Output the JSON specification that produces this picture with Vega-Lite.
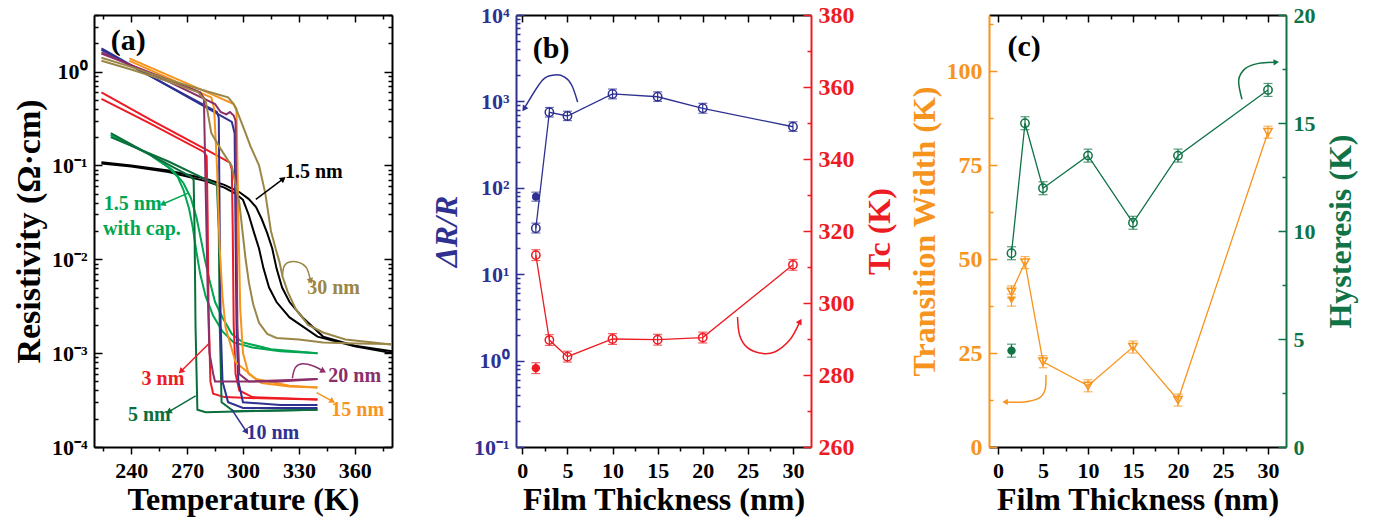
{
"$schema":"https://vega.github.io/schema/vega-lite/v6.json",
"padding":{"left":12,"top":3,"right":5,"bottom":5},
"bounds":"flush",
"spacing":0,
"config":{
 "font":"Liberation Serif",
 "view":{"stroke":null},
 "axis":{"grid":false,"labelFont":"Liberation Serif","labelFontWeight":"bold","labelFontSize":22,"titleFont":"Liberation Serif","titleFontWeight":"bold","titleFontSize":32,"domainWidth":2,"domainColor":"#000","tickColor":"#000","tickWidth":1.5,"labelColor":"#000","titleColor":"#000","labelPadding":6,"titlePadding":3,"labelFlush":false,"labelOverlap":false},
 "text":{"font":"Liberation Serif","fontWeight":"bold","fontSize":20}
},
"datasets":{
 "curves":[
  {"s":"1.5 nm","b":"h","i":0,"T":224,"rho":0.108},{"s":"1.5 nm","b":"h","i":1,"T":240,"rho":0.1},{"s":"1.5 nm","b":"h","i":2,"T":260,"rho":0.088},{"s":"1.5 nm","b":"h","i":3,"T":280,"rho":0.072},{"s":"1.5 nm","b":"h","i":4,"T":290,"rho":0.062},{"s":"1.5 nm","b":"h","i":5,"T":298,"rho":0.052},{"s":"1.5 nm","b":"h","i":6,"T":303,"rho":0.044},{"s":"1.5 nm","b":"h","i":7,"T":307,"rho":0.036},{"s":"1.5 nm","b":"h","i":8,"T":310,"rho":0.027},{"s":"1.5 nm","b":"h","i":9,"T":313,"rho":0.019},{"s":"1.5 nm","b":"h","i":10,"T":315.7,"rho":0.013},{"s":"1.5 nm","b":"h","i":11,"T":318,"rho":0.008},{"s":"1.5 nm","b":"h","i":12,"T":321,"rho":0.005},{"s":"1.5 nm","b":"h","i":13,"T":325,"rho":0.0035},{"s":"1.5 nm","b":"h","i":14,"T":332,"rho":0.0024},{"s":"1.5 nm","b":"h","i":15,"T":343,"rho":0.0015},{"s":"1.5 nm","b":"h","i":16,"T":360,"rho":0.0012},{"s":"1.5 nm","b":"h","i":17,"T":380,"rho":0.00105},
  {"s":"1.5 nm","b":"c","i":0,"T":224,"rho":0.105},{"s":"1.5 nm","b":"c","i":1,"T":240,"rho":0.097},{"s":"1.5 nm","b":"c","i":2,"T":260,"rho":0.085},{"s":"1.5 nm","b":"c","i":3,"T":280,"rho":0.068},{"s":"1.5 nm","b":"c","i":4,"T":290,"rho":0.058},{"s":"1.5 nm","b":"c","i":5,"T":296,"rho":0.05},{"s":"1.5 nm","b":"c","i":6,"T":300,"rho":0.043},{"s":"1.5 nm","b":"c","i":7,"T":303,"rho":0.03},{"s":"1.5 nm","b":"c","i":8,"T":306,"rho":0.019},{"s":"1.5 nm","b":"c","i":9,"T":308.6,"rho":0.013},{"s":"1.5 nm","b":"c","i":10,"T":311,"rho":0.008},{"s":"1.5 nm","b":"c","i":11,"T":314,"rho":0.005},{"s":"1.5 nm","b":"c","i":12,"T":318,"rho":0.0035},{"s":"1.5 nm","b":"c","i":13,"T":325,"rho":0.0024},{"s":"1.5 nm","b":"c","i":14,"T":340,"rho":0.0015},{"s":"1.5 nm","b":"c","i":15,"T":360,"rho":0.00118},{"s":"1.5 nm","b":"c","i":16,"T":380,"rho":0.001},
  {"s":"cap","b":"c","i":0,"T":229,"rho":0.21},{"s":"cap","b":"c","i":1,"T":250,"rho":0.13},{"s":"cap","b":"c","i":2,"T":260,"rho":0.095},{"s":"cap","b":"c","i":3,"T":265,"rho":0.075},{"s":"cap","b":"c","i":4,"T":268,"rho":0.055},{"s":"cap","b":"c","i":5,"T":271,"rho":0.035},{"s":"cap","b":"c","i":6,"T":273,"rho":0.022},{"s":"cap","b":"c","i":7,"T":275,"rho":0.012},{"s":"cap","b":"c","i":8,"T":277,"rho":0.007},{"s":"cap","b":"c","i":9,"T":280,"rho":0.004},{"s":"cap","b":"c","i":10,"T":284,"rho":0.0025},{"s":"cap","b":"c","i":11,"T":289,"rho":0.0017},{"s":"cap","b":"c","i":12,"T":295,"rho":0.0013},{"s":"cap","b":"c","i":13,"T":305,"rho":0.00115},{"s":"cap","b":"c","i":14,"T":320,"rho":0.00105},{"s":"cap","b":"c","i":15,"T":340,"rho":0.001},
  {"s":"cap","b":"h","i":0,"T":229,"rho":0.21},{"s":"cap","b":"h","i":1,"T":250,"rho":0.13},{"s":"cap","b":"h","i":2,"T":262,"rho":0.09},{"s":"cap","b":"h","i":3,"T":268,"rho":0.065},{"s":"cap","b":"h","i":4,"T":272,"rho":0.045},{"s":"cap","b":"h","i":5,"T":275,"rho":0.028},{"s":"cap","b":"h","i":6,"T":277.5,"rho":0.016},{"s":"cap","b":"h","i":7,"T":279.5,"rho":0.01},{"s":"cap","b":"h","i":8,"T":282,"rho":0.006},{"s":"cap","b":"h","i":9,"T":285,"rho":0.0035},{"s":"cap","b":"h","i":10,"T":289,"rho":0.0024},{"s":"cap","b":"h","i":11,"T":294,"rho":0.0016},{"s":"cap","b":"h","i":12,"T":300,"rho":0.0013},{"s":"cap","b":"h","i":13,"T":315,"rho":0.0011},{"s":"cap","b":"h","i":14,"T":340,"rho":0.001},
  {"s":"3 nm","b":"h","i":0,"T":224,"rho":0.6},{"s":"3 nm","b":"h","i":1,"T":250,"rho":0.31},{"s":"3 nm","b":"h","i":2,"T":280,"rho":0.148},{"s":"3 nm","b":"h","i":3,"T":293,"rho":0.107},{"s":"3 nm","b":"h","i":4,"T":294,"rho":0.09},{"s":"3 nm","b":"h","i":5,"T":294.5,"rho":0.02},{"s":"3 nm","b":"h","i":6,"T":295,"rho":0.002},{"s":"3 nm","b":"h","i":7,"T":296,"rho":0.0006},{"s":"3 nm","b":"h","i":8,"T":298,"rho":0.0004},{"s":"3 nm","b":"h","i":9,"T":305,"rho":0.00034},{"s":"3 nm","b":"h","i":10,"T":340,"rho":0.00032},
  {"s":"3 nm","b":"c","i":0,"T":224,"rho":0.51},{"s":"3 nm","b":"c","i":1,"T":250,"rho":0.28},{"s":"3 nm","b":"c","i":2,"T":279,"rho":0.139},{"s":"3 nm","b":"c","i":3,"T":280.5,"rho":0.125},{"s":"3 nm","b":"c","i":4,"T":281,"rho":0.03},{"s":"3 nm","b":"c","i":5,"T":281.5,"rho":0.003},{"s":"3 nm","b":"c","i":6,"T":282.5,"rho":0.0005},{"s":"3 nm","b":"c","i":7,"T":284,"rho":0.00037},{"s":"3 nm","b":"c","i":8,"T":290,"rho":0.00034},{"s":"3 nm","b":"c","i":9,"T":310,"rho":0.00033},{"s":"3 nm","b":"c","i":10,"T":340,"rho":0.00032},
  {"s":"5 nm","b":"h","i":0,"T":229,"rho":0.2},{"s":"5 nm","b":"h","i":1,"T":260,"rho":0.11},{"s":"5 nm","b":"h","i":2,"T":282,"rho":0.068},{"s":"5 nm","b":"h","i":3,"T":286,"rho":0.062},{"s":"5 nm","b":"h","i":4,"T":287,"rho":0.02},{"s":"5 nm","b":"h","i":5,"T":287.5,"rho":0.002},{"s":"5 nm","b":"h","i":6,"T":288.5,"rho":0.0003},{"s":"5 nm","b":"h","i":7,"T":295,"rho":0.00024},{"s":"5 nm","b":"h","i":8,"T":340,"rho":0.00025},
  {"s":"5 nm","b":"c","i":0,"T":229,"rho":0.22},{"s":"5 nm","b":"c","i":1,"T":250,"rho":0.13},{"s":"5 nm","b":"c","i":2,"T":265,"rho":0.09},{"s":"5 nm","b":"c","i":3,"T":272,"rho":0.076},{"s":"5 nm","b":"c","i":4,"T":273.5,"rho":0.07},{"s":"5 nm","b":"c","i":5,"T":274,"rho":0.02},{"s":"5 nm","b":"c","i":6,"T":274.5,"rho":0.002},{"s":"5 nm","b":"c","i":7,"T":275.5,"rho":0.00025},{"s":"5 nm","b":"c","i":8,"T":280,"rho":0.000235},{"s":"5 nm","b":"c","i":9,"T":340,"rho":0.00025},
  {"s":"10 nm","b":"h","i":0,"T":224,"rho":1.76},{"s":"10 nm","b":"h","i":1,"T":294,"rho":0.29},{"s":"10 nm","b":"h","i":2,"T":295.5,"rho":0.22},{"s":"10 nm","b":"h","i":3,"T":296,"rho":0.02},{"s":"10 nm","b":"h","i":4,"T":296.5,"rho":0.002},{"s":"10 nm","b":"h","i":5,"T":297.5,"rho":0.0005},{"s":"10 nm","b":"h","i":6,"T":300,"rho":0.0003},{"s":"10 nm","b":"h","i":7,"T":320,"rho":0.00028},{"s":"10 nm","b":"h","i":8,"T":340,"rho":0.00028},
  {"s":"10 nm","b":"c","i":0,"T":224,"rho":1.7},{"s":"10 nm","b":"c","i":1,"T":286,"rho":0.37},{"s":"10 nm","b":"c","i":2,"T":287,"rho":0.32},{"s":"10 nm","b":"c","i":3,"T":287.5,"rho":0.02},{"s":"10 nm","b":"c","i":4,"T":288,"rho":0.002},{"s":"10 nm","b":"c","i":5,"T":289,"rho":0.0005},{"s":"10 nm","b":"c","i":6,"T":292,"rho":0.0003},{"s":"10 nm","b":"c","i":7,"T":300,"rho":0.00026},{"s":"10 nm","b":"c","i":8,"T":340,"rho":0.00026},
  {"s":"15 nm","b":"h","i":0,"T":239,"rho":1.38},{"s":"15 nm","b":"h","i":1,"T":260,"rho":0.91},{"s":"15 nm","b":"h","i":2,"T":280,"rho":0.61},{"s":"15 nm","b":"h","i":3,"T":295,"rho":0.45},{"s":"15 nm","b":"h","i":4,"T":296.5,"rho":0.4},{"s":"15 nm","b":"h","i":5,"T":297.5,"rho":0.03},{"s":"15 nm","b":"h","i":6,"T":298.5,"rho":0.003},{"s":"15 nm","b":"h","i":7,"T":300,"rho":0.001},{"s":"15 nm","b":"h","i":8,"T":303,"rho":0.0006},{"s":"15 nm","b":"h","i":9,"T":310,"rho":0.00048},{"s":"15 nm","b":"h","i":10,"T":325,"rho":0.00044},{"s":"15 nm","b":"h","i":11,"T":340,"rho":0.00043},
  {"s":"15 nm","b":"c","i":0,"T":239,"rho":1.3},{"s":"15 nm","b":"c","i":1,"T":260,"rho":0.85},{"s":"15 nm","b":"c","i":2,"T":280,"rho":0.56},{"s":"15 nm","b":"c","i":3,"T":283,"rho":0.53},{"s":"15 nm","b":"c","i":4,"T":284.5,"rho":0.4},{"s":"15 nm","b":"c","i":5,"T":286,"rho":0.1},{"s":"15 nm","b":"c","i":6,"T":287.5,"rho":0.013},{"s":"15 nm","b":"c","i":7,"T":289,"rho":0.004},{"s":"15 nm","b":"c","i":8,"T":290.6,"rho":0.0019},{"s":"15 nm","b":"c","i":9,"T":296,"rho":0.0008},{"s":"15 nm","b":"c","i":10,"T":307,"rho":0.00053},{"s":"15 nm","b":"c","i":11,"T":325,"rho":0.00045},{"s":"15 nm","b":"c","i":12,"T":340,"rho":0.00043},
  {"s":"20 nm","b":"h","i":0,"T":224,"rho":1.6},{"s":"20 nm","b":"h","i":1,"T":260,"rho":0.78},{"s":"20 nm","b":"h","i":2,"T":285,"rho":0.45},{"s":"20 nm","b":"h","i":3,"T":288,"rho":0.37},{"s":"20 nm","b":"h","i":4,"T":291,"rho":0.35},{"s":"20 nm","b":"h","i":5,"T":293,"rho":0.37},{"s":"20 nm","b":"h","i":6,"T":295,"rho":0.34},{"s":"20 nm","b":"h","i":7,"T":296,"rho":0.3},{"s":"20 nm","b":"h","i":8,"T":296.5,"rho":0.02},{"s":"20 nm","b":"h","i":9,"T":297,"rho":0.002},{"s":"20 nm","b":"h","i":10,"T":298,"rho":0.0006},{"s":"20 nm","b":"h","i":11,"T":303,"rho":0.0005},{"s":"20 nm","b":"h","i":12,"T":340,"rho":0.00053},
  {"s":"20 nm","b":"c","i":0,"T":224,"rho":1.55},{"s":"20 nm","b":"c","i":1,"T":260,"rho":0.82},{"s":"20 nm","b":"c","i":2,"T":277,"rho":0.6},{"s":"20 nm","b":"c","i":3,"T":279,"rho":0.52},{"s":"20 nm","b":"c","i":4,"T":280,"rho":0.05},{"s":"20 nm","b":"c","i":5,"T":281,"rho":0.005},{"s":"20 nm","b":"c","i":6,"T":282,"rho":0.001},{"s":"20 nm","b":"c","i":7,"T":284,"rho":0.0006},{"s":"20 nm","b":"c","i":8,"T":285,"rho":0.0005},{"s":"20 nm","b":"c","i":9,"T":320,"rho":0.0005},{"s":"20 nm","b":"c","i":10,"T":340,"rho":0.00053},
  {"s":"30 nm","b":"h","i":0,"T":224,"rho":1.4},{"s":"30 nm","b":"h","i":1,"T":240,"rho":1.12},{"s":"30 nm","b":"h","i":2,"T":260,"rho":0.82},{"s":"30 nm","b":"h","i":3,"T":280,"rho":0.62},{"s":"30 nm","b":"h","i":4,"T":292,"rho":0.53},{"s":"30 nm","b":"h","i":5,"T":295,"rho":0.45},{"s":"30 nm","b":"h","i":6,"T":297,"rho":0.37},{"s":"30 nm","b":"h","i":7,"T":300,"rho":0.26},{"s":"30 nm","b":"h","i":8,"T":304,"rho":0.16},{"s":"30 nm","b":"h","i":9,"T":308.6,"rho":0.1},{"s":"30 nm","b":"h","i":10,"T":312,"rho":0.05},{"s":"30 nm","b":"h","i":11,"T":315,"rho":0.02},{"s":"30 nm","b":"h","i":12,"T":317.5,"rho":0.013},{"s":"30 nm","b":"h","i":13,"T":319.5,"rho":0.0095},{"s":"30 nm","b":"h","i":14,"T":321.2,"rho":0.0066},{"s":"30 nm","b":"h","i":15,"T":324,"rho":0.0045},{"s":"30 nm","b":"h","i":16,"T":328.5,"rho":0.0029},{"s":"30 nm","b":"h","i":17,"T":335,"rho":0.002},{"s":"30 nm","b":"h","i":18,"T":343,"rho":0.00166},{"s":"30 nm","b":"h","i":19,"T":355,"rho":0.0014},{"s":"30 nm","b":"h","i":20,"T":370,"rho":0.0013},{"s":"30 nm","b":"h","i":21,"T":380,"rho":0.00123},
  {"s":"30 nm","b":"c","i":0,"T":224,"rho":1.3},{"s":"30 nm","b":"c","i":1,"T":240,"rho":1.05},{"s":"30 nm","b":"c","i":2,"T":260,"rho":0.78},{"s":"30 nm","b":"c","i":3,"T":276,"rho":0.6},{"s":"30 nm","b":"c","i":4,"T":280,"rho":0.48},{"s":"30 nm","b":"c","i":5,"T":283,"rho":0.22},{"s":"30 nm","b":"c","i":6,"T":288,"rho":0.15},{"s":"30 nm","b":"c","i":7,"T":294,"rho":0.098},{"s":"30 nm","b":"c","i":8,"T":298,"rho":0.04},{"s":"30 nm","b":"c","i":9,"T":301.4,"rho":0.01},{"s":"30 nm","b":"c","i":10,"T":303.2,"rho":0.0056},{"s":"30 nm","b":"c","i":11,"T":305.5,"rho":0.0033},{"s":"30 nm","b":"c","i":12,"T":308.6,"rho":0.0021},{"s":"30 nm","b":"c","i":13,"T":313,"rho":0.0016},{"s":"30 nm","b":"c","i":14,"T":318,"rho":0.00145},{"s":"30 nm","b":"c","i":15,"T":330,"rho":0.0014},{"s":"30 nm","b":"c","i":16,"T":343,"rho":0.0013},{"s":"30 nm","b":"c","i":17,"T":360,"rho":0.00127},{"s":"30 nm","b":"c","i":18,"T":380,"rho":0.00125}
 ],
 "labA":[
  {"txt":"1.5 nm","s":"1.5 nm","T":338,"rho":0.084},
  {"txt":"1.5 nm","s":"cap","T":240.8,"rho":0.039},
  {"txt":"with cap.","s":"cap","T":245.7,"rho":0.021},
  {"txt":"3 nm","s":"3 nm","T":257,"rho":0.00053},
  {"txt":"5 nm","s":"5 nm","T":249.7,"rho":0.00022},
  {"txt":"10 nm","s":"10 nm","T":316,"rho":0.00014},
  {"txt":"15 nm","s":"15 nm","T":361.6,"rho":0.00025},
  {"txt":"20 nm","s":"20 nm","T":360,"rho":0.00057},
  {"txt":"30 nm","s":"30 nm","T":348.6,"rho":0.0049}
 ],
 "arrA":[
  {"id":"a3","s":"3 nm","i":0,"T":281.6,"rho":0.00126},{"id":"a3","s":"3 nm","i":1,"T":267,"rho":0.00065},
  {"id":"a5","s":"5 nm","i":0,"T":274.6,"rho":0.00035},{"id":"a5","s":"5 nm","i":1,"T":260.5,"rho":0.00024},
  {"id":"a10","s":"10 nm","i":0,"T":294,"rho":0.00025},{"id":"a10","s":"10 nm","i":1,"T":301.6,"rho":0.000148},
  {"id":"a15","s":"15 nm","i":0,"T":339.5,"rho":0.00038},{"id":"a15","s":"15 nm","i":1,"T":347.6,"rho":0.00031},
  {"id":"a20","s":"20 nm","i":0,"T":326.5,"rho":0.00054},{"id":"a20","s":"20 nm","i":1,"T":328.1,"rho":0.0007},{"id":"a20","s":"20 nm","i":2,"T":331.9,"rho":0.00077},{"id":"a20","s":"20 nm","i":3,"T":337.8,"rho":0.00073},{"id":"a20","s":"20 nm","i":4,"T":342.7,"rho":0.00065},
  {"id":"a30","s":"30 nm","i":0,"T":321.1,"rho":0.0065},{"id":"a30","s":"30 nm","i":1,"T":322.2,"rho":0.0085},{"id":"a30","s":"30 nm","i":2,"T":325.4,"rho":0.0094},{"id":"a30","s":"30 nm","i":3,"T":330.3,"rho":0.0092},{"id":"a30","s":"30 nm","i":4,"T":334.1,"rho":0.0081},{"id":"a30","s":"30 nm","i":5,"T":336.2,"rho":0.006},
  {"id":"a1","s":"1.5 nm","i":0,"T":306.9,"rho":0.0435},{"id":"a1","s":"1.5 nm","i":1,"T":321.2,"rho":0.071},
  {"id":"ac","s":"cap","i":0,"T":270.8,"rho":0.051},{"id":"ac","s":"cap","i":1,"T":257.3,"rho":0.039}
 ],
 "headA":[
  {"s":"3 nm","T":267,"rho":0.00065,"a":225},
  {"s":"5 nm","T":260.5,"rho":0.00024,"a":240},
  {"s":"10 nm","T":301.6,"rho":0.000148,"a":147},
  {"s":"15 nm","T":347.6,"rho":0.00031,"a":121},
  {"s":"20 nm","T":342.7,"rho":0.00065,"a":119},
  {"s":"30 nm","T":336.2,"rho":0.006,"a":162},
  {"s":"1.5 nm","T":321.2,"rho":0.071,"a":52},
  {"s":"cap","T":257.3,"rho":0.039,"a":246}
 ],
 "dr":[
  {"t":1.5,"v":34,"lo":30,"hi":39,"k":"o"},{"t":1.5,"v":79,"lo":70,"hi":89,"k":"f"},{"t":3,"v":748,"lo":660,"hi":850,"k":"o"},{"t":5,"v":678,"lo":600,"hi":770,"k":"o"},{"t":10,"v":1219,"lo":1070,"hi":1390,"k":"o"},{"t":15,"v":1132,"lo":1000,"hi":1290,"k":"o"},{"t":20,"v":832,"lo":730,"hi":950,"k":"o"},{"t":30,"v":509,"lo":450,"hi":580,"k":"o"}
 ],
 "arB":[{"i":0,"t":6.13,"v":984},{"i":1,"t":5.47,"v":1549},{"i":2,"t":4.69,"v":1914},{"i":3,"t":3.58,"v":2023},{"i":4,"t":2.25,"v":1770},{"i":5,"t":0.25,"v":840}],
 "arBh":[{"t":0.25,"v":840,"a":213}],
 "tc":[
  {"t":1.5,"v":313.3,"lo":311.8,"hi":314.8,"k":"o"},{"t":1.5,"v":281.9,"lo":280.4,"hi":283.4,"k":"f"},{"t":3,"v":289.7,"lo":288.2,"hi":291.2,"k":"o"},{"t":5,"v":285.1,"lo":283.6,"hi":286.6,"k":"o"},{"t":10,"v":290,"lo":288.5,"hi":291.5,"k":"o"},{"t":15,"v":289.8,"lo":288.3,"hi":291.3,"k":"o"},{"t":20,"v":290.4,"lo":288.9,"hi":291.9,"k":"o"},{"t":30,"v":310.6,"lo":309.1,"hi":312.1,"k":"o"}
 ],
 "arR":[{"i":0,"t":23.86,"v":296.1},{"i":1,"t":24.08,"v":291.1},{"i":2,"t":24.86,"v":287.8},{"i":3,"t":26.3,"v":286.1},{"i":4,"t":27.97,"v":286.4},{"i":5,"t":29.63,"v":289.7},{"i":6,"t":30.74,"v":294.7}],
 "arRh":[{"t":30.74,"v":294.7,"a":29}],
 "tw":[
  {"t":1.5,"v":41.3,"lo":39.7,"hi":42.9,"k":"o"},{"t":1.5,"v":39.1,"lo":37.5,"hi":40.7,"k":"f"},{"t":3,"v":49.1,"lo":47.5,"hi":50.7,"k":"o"},{"t":5,"v":22.7,"lo":21.1,"hi":24.3,"k":"o"},{"t":10,"v":16.3,"lo":14.7,"hi":17.9,"k":"o"},{"t":15,"v":26.6,"lo":25,"hi":28.2,"k":"o"},{"t":20,"v":12.5,"lo":10.9,"hi":14.1,"k":"o"},{"t":30,"v":83.8,"lo":82.2,"hi":85.4,"k":"o"}
 ],
 "arO":[{"i":0,"t":5.33,"v":19.2},{"i":1,"t":5.22,"v":15.2},{"i":2,"t":4.55,"v":13},{"i":3,"t":2.89,"v":12},{"i":4,"t":0.89,"v":12}],
 "arOh":[{"t":0.89,"v":12,"a":270}],
 "hy":[
  {"t":1.5,"v":8.97,"lo":8.67,"hi":9.27,"k":"o"},{"t":1.5,"v":4.46,"lo":4.16,"hi":4.76,"k":"f"},{"t":3,"v":14.99,"lo":14.69,"hi":15.29,"k":"o"},{"t":5,"v":11.98,"lo":11.68,"hi":12.28,"k":"o"},{"t":10,"v":13.49,"lo":13.19,"hi":13.79,"k":"o"},{"t":15,"v":10.38,"lo":10.08,"hi":10.68,"k":"o"},{"t":20,"v":13.49,"lo":13.19,"hi":13.79,"k":"o"},{"t":30,"v":16.53,"lo":16.23,"hi":16.83,"k":"o"}
 ],
 "arG":[{"i":0,"t":27.11,"v":16.1},{"i":1,"t":26.75,"v":16.99},{"i":2,"t":27.49,"v":17.53},{"i":3,"t":28.97,"v":17.76},{"i":4,"t":30.82,"v":17.81}],
 "arGh":[{"t":30.82,"v":17.81,"a":87}]
},
"hconcat":[
 {
  "width":298,"height":432,
  "layer":[
   {
    "encoding":{
     "x":{"field":"T","type":"quantitative","scale":{"domain":[220,380],"nice":false,"zero":false},
      "axis":{"title":"Temperature (K)","values":[225,240,255,270,285,300,315,330,345,360,375],"labelExpr":"datum.value % 30 == 0 ? datum.label : ''","tickSize":{"condition":{"test":"datum.value % 30 == 0","value":7},"value":4}}},
     "y":{"field":"rho","type":"quantitative","scale":{"type":"log","domain":[0.0001,4],"nice":false},
      "axis":{"title":"Resistivity (Ω·cm)","titleFontSize":34,"titlePadding":5,"values":[0.0001,0.0002,0.0003,0.0004,0.0005,0.0006,0.0007,0.0008,0.0009,0.001,0.002,0.003,0.004,0.005,0.006,0.007,0.008,0.009,0.01,0.02,0.03,0.04,0.05,0.06,0.07,0.08,0.09,0.1,0.2,0.3,0.4,0.5,0.6,0.7,0.8,0.9,1,2,3,4],
       "labelExpr":"abs(log(datum.value)/LN10 - round(log(datum.value)/LN10)) < 0.001 ? '10' + ['⁻⁴','⁻³','⁻²','⁻¹','⁰'][round(log(datum.value)/LN10) + 4] : ''",
       "tickSize":{"condition":{"test":"abs(log(datum.value)/LN10 - round(log(datum.value)/LN10)) < 0.001","value":-8},"value":-4},"labelPadding":15}},
     "color":{"field":"s","type":"nominal","scale":{"domain":["1.5 nm","cap","3 nm","5 nm","10 nm","15 nm","20 nm","30 nm"],"range":["#000000","#00A651","#ED1C24","#0B6E3C","#2E3192","#F7941D","#8B2F6B","#9A8747"]},"legend":null}
    },
    "layer":[
     {"data":{"name":"curves"},"mark":{"type":"line","strokeWidth":2},"encoding":{"detail":{"field":"b","type":"nominal"},"order":{"field":"i","type":"quantitative"}}},
     {"data":{"name":"arrA"},"mark":{"type":"line","strokeWidth":1.5,"interpolate":"cardinal"},"encoding":{"detail":{"field":"id","type":"nominal"},"order":{"field":"i","type":"quantitative"}}},
     {"data":{"name":"headA"},"mark":{"type":"point","shape":"triangle","filled":true,"size":45,"opacity":1},"encoding":{"angle":{"field":"a","type":"quantitative","scale":null}}},
     {"data":{"name":"labA"},"mark":{"type":"text","fontSize":20},"encoding":{"text":{"field":"txt"}}},
     {"data":{"values":[{"T":238.4,"rho":2.09,"lab":"(a)"}]},"mark":{"type":"text","fontSize":30},"encoding":{"text":{"field":"lab"},"color":{"value":"#000"}}}
    ]
   },
   {
    "data":{"values":[{"T":300,"rho":0.01}]},
    "mark":{"type":"point","opacity":0},
    "encoding":{
     "x":{"field":"T","type":"quantitative","scale":{"domain":[220,380],"nice":false,"zero":false},
      "axis":{"orient":"top","title":null,"labels":false,"values":[225,240,255,270,285,300,315,330,345,360,375],"tickSize":{"condition":{"test":"datum.value % 30 == 0","value":-7},"value":-4}}},
     "y":{"field":"rho","type":"quantitative","scale":{"type":"log","domain":[0.0001,4],"nice":false},
      "axis":{"orient":"right","title":null,"labels":false,"values":[0.0001,0.0002,0.0003,0.0004,0.0005,0.0006,0.0007,0.0008,0.0009,0.001,0.002,0.003,0.004,0.005,0.006,0.007,0.008,0.009,0.01,0.02,0.03,0.04,0.05,0.06,0.07,0.08,0.09,0.1,0.2,0.3,0.4,0.5,0.6,0.7,0.8,0.9,1,2,3,4],
       "tickSize":{"condition":{"test":"abs(log(datum.value)/LN10 - round(log(datum.value)/LN10)) < 0.001","value":-8},"value":-4}}}
    }
   }
  ],
  "resolve":{"scale":{"x":"independent","y":"independent"}}
 },
 {"width":124,"height":432,"data":{"values":[{"z":0}]},"mark":{"type":"point","opacity":0},"encoding":{}},
 {
  "width":295,"height":432,
  "layer":[
   {
    "encoding":{
     "x":{"field":"t","type":"quantitative","scale":{"domain":[-0.7,32],"nice":false,"zero":false},
      "axis":{"title":"Film Thickness (nm)","values":[0,2.5,5,7.5,10,12.5,15,17.5,20,22.5,25,27.5,30],"labelExpr":"datum.value % 5 == 0 ? datum.label : ''","tickSize":{"condition":{"test":"datum.value % 5 == 0","value":7},"value":4}}},
     "y":{"field":"v","type":"quantitative","scale":{"type":"log","domain":[0.1,10000],"nice":false},
      "axis":{"orient":"left","title":"ΔR/R","titleFontStyle":"italic","titleColor":"#2E3192","labelColor":"#2E3192","domainColor":"#2E3192","tickColor":"#2E3192",
       "values":[0.1,0.2,0.3,0.4,0.5,0.6,0.7,0.8,0.9,1,2,3,4,5,6,7,8,9,10,20,30,40,50,60,70,80,90,100,200,300,400,500,600,700,800,900,1000,2000,3000,4000,5000,6000,7000,8000,9000,10000],
       "labelExpr":"abs(log(datum.value)/LN10 - round(log(datum.value)/LN10)) < 0.001 ? '10' + ['⁻¹','⁰','¹','²','³','⁴'][round(log(datum.value)/LN10) + 1] : ''",
       "tickSize":{"condition":{"test":"abs(log(datum.value)/LN10 - round(log(datum.value)/LN10)) < 0.001","value":-8},"value":-4},"labelPadding":15,"titlePadding":10}}
    },
    "layer":[
     {"data":{"name":"dr"},"transform":[{"filter":"datum.k == 'o'"}],"mark":{"type":"line","color":"#2E3192","strokeWidth":1.3}},
     {"data":{"name":"dr"},"mark":{"type":"rule","color":"#2E3192","strokeWidth":1.2},"encoding":{"y":{"field":"lo","type":"quantitative"},"y2":{"field":"hi"}}},
     {"data":{"name":"dr"},"mark":{"type":"tick","orient":"horizontal","size":9,"thickness":1.2,"color":"#2E3192"},"encoding":{"y":{"field":"lo","type":"quantitative"}}},
     {"data":{"name":"dr"},"mark":{"type":"tick","orient":"horizontal","size":9,"thickness":1.2,"color":"#2E3192"},"encoding":{"y":{"field":"hi","type":"quantitative"}}},
     {"data":{"name":"dr"},"transform":[{"filter":"datum.k == 'o'"}],"mark":{"type":"point","shape":"circle","size":70,"filled":false,"strokeWidth":1.5,"color":"#2E3192","opacity":1}},
     {"data":{"name":"dr"},"transform":[{"filter":"datum.k == 'f'"}],"mark":{"type":"point","shape":"circle","size":60,"filled":true,"color":"#2E3192","opacity":1}},
     {"data":{"name":"arB"},"mark":{"type":"line","color":"#2E3192","strokeWidth":1.5,"interpolate":"cardinal"},"encoding":{"order":{"field":"i","type":"quantitative"}}},
     {"data":{"name":"arBh"},"mark":{"type":"point","shape":"triangle","filled":true,"size":45,"color":"#2E3192","opacity":1},"encoding":{"angle":{"field":"a","type":"quantitative","scale":null}}},
     {"data":{"values":[{"t":3.2,"v":4000,"lab":"(b)"}]},"mark":{"type":"text","fontSize":30,"color":"#000"},"encoding":{"text":{"field":"lab"}}}
    ]
   },
   {
    "encoding":{
     "x":{"field":"t","type":"quantitative","scale":{"domain":[-0.7,32],"nice":false,"zero":false},"axis":null},
     "y":{"field":"v","type":"quantitative","scale":{"domain":[260,380],"nice":false,"zero":false},
      "axis":{"orient":"right","title":"Tc (K)","titleAngle":270,"titleBaseline":"top","titleColor":"#ED1C24","labelColor":"#ED1C24","domainColor":"#ED1C24","tickColor":"#ED1C24","labelFontSize":24,
       "values":[260,270,280,290,300,310,320,330,340,350,360,370,380],"labelExpr":"datum.value % 20 == 0 ? datum.label : ''",
       "tickSize":{"condition":{"test":"datum.value % 20 == 0","value":-8},"value":-4},"labelPadding":15,"titlePadding":10}}
    },
    "layer":[
     {"data":{"name":"tc"},"transform":[{"filter":"datum.k == 'o'"}],"mark":{"type":"line","color":"#ED1C24","strokeWidth":1.3}},
     {"data":{"name":"tc"},"mark":{"type":"rule","color":"#ED1C24","strokeWidth":1.2},"encoding":{"y":{"field":"lo","type":"quantitative"},"y2":{"field":"hi"}}},
     {"data":{"name":"tc"},"mark":{"type":"tick","orient":"horizontal","size":9,"thickness":1.2,"color":"#ED1C24"},"encoding":{"y":{"field":"lo","type":"quantitative"}}},
     {"data":{"name":"tc"},"mark":{"type":"tick","orient":"horizontal","size":9,"thickness":1.2,"color":"#ED1C24"},"encoding":{"y":{"field":"hi","type":"quantitative"}}},
     {"data":{"name":"tc"},"transform":[{"filter":"datum.k == 'o'"}],"mark":{"type":"point","shape":"circle","size":70,"filled":false,"strokeWidth":1.5,"color":"#ED1C24","opacity":1}},
     {"data":{"name":"tc"},"transform":[{"filter":"datum.k == 'f'"}],"mark":{"type":"point","shape":"circle","size":70,"filled":true,"color":"#ED1C24","opacity":1}},
     {"data":{"name":"arR"},"mark":{"type":"line","color":"#ED1C24","strokeWidth":1.5,"interpolate":"cardinal"},"encoding":{"order":{"field":"i","type":"quantitative"}}},
     {"data":{"name":"arRh"},"mark":{"type":"point","shape":"triangle","filled":true,"size":45,"color":"#ED1C24","opacity":1},"encoding":{"angle":{"field":"a","type":"quantitative","scale":null}}}
    ]
   },
   {
    "data":{"values":[{"t":10}]},
    "mark":{"type":"point","opacity":0},
    "encoding":{
     "x":{"field":"t","type":"quantitative","scale":{"domain":[-0.7,32],"nice":false,"zero":false},
      "axis":{"orient":"top","title":null,"labels":false,"values":[0,2.5,5,7.5,10,12.5,15,17.5,20,22.5,25,27.5,30],"tickSize":{"condition":{"test":"datum.value % 5 == 0","value":-7},"value":-4}}}
    }
   }
  ],
  "resolve":{"scale":{"x":"independent","y":"independent"}}
 },
 {"width":178,"height":432,"data":{"values":[{"z":0}]},"mark":{"type":"point","opacity":0},"encoding":{}},
 {
  "width":297,"height":432,
  "layer":[
   {
    "encoding":{
     "x":{"field":"t","type":"quantitative","scale":{"domain":[-1,32],"nice":false,"zero":false},
      "axis":{"title":"Film Thickness (nm)","values":[0,2.5,5,7.5,10,12.5,15,17.5,20,22.5,25,27.5,30],"labelExpr":"datum.value % 5 == 0 ? datum.label : ''","tickSize":{"condition":{"test":"datum.value % 5 == 0","value":7},"value":4}}},
     "y":{"field":"v","type":"quantitative","scale":{"domain":[0,115],"nice":false,"zero":false},
      "axis":{"orient":"left","title":"Transition Width (K)","titleColor":"#F7941D","labelColor":"#F7941D","domainColor":"#F7941D","tickColor":"#F7941D","labelFontSize":24,
       "values":[0,12.5,25,37.5,50,62.5,75,87.5,100,112.5],"labelExpr":"datum.value % 25 == 0 ? datum.label : ''",
       "tickSize":{"condition":{"test":"datum.value % 25 == 0","value":-8},"value":-4},"labelPadding":15,"titlePadding":5}}
    },
    "layer":[
     {"data":{"name":"tw"},"transform":[{"filter":"datum.k == 'o'"}],"mark":{"type":"line","color":"#F7941D","strokeWidth":1.3}},
     {"data":{"name":"tw"},"mark":{"type":"rule","color":"#F7941D","strokeWidth":1.2},"encoding":{"y":{"field":"lo","type":"quantitative"},"y2":{"field":"hi"}}},
     {"data":{"name":"tw"},"mark":{"type":"tick","orient":"horizontal","size":9,"thickness":1.2,"color":"#F7941D"},"encoding":{"y":{"field":"lo","type":"quantitative"}}},
     {"data":{"name":"tw"},"mark":{"type":"tick","orient":"horizontal","size":9,"thickness":1.2,"color":"#F7941D"},"encoding":{"y":{"field":"hi","type":"quantitative"}}},
     {"data":{"name":"tw"},"transform":[{"filter":"datum.k == 'o'"}],"mark":{"type":"point","shape":"triangle-down","size":70,"filled":false,"strokeWidth":1.5,"color":"#F7941D","opacity":1}},
     {"data":{"name":"tw"},"transform":[{"filter":"datum.k == 'f'"}],"mark":{"type":"point","shape":"triangle-down","size":70,"filled":true,"color":"#F7941D","opacity":1}},
     {"data":{"name":"arO"},"mark":{"type":"line","color":"#F7941D","strokeWidth":1.5,"interpolate":"cardinal"},"encoding":{"order":{"field":"i","type":"quantitative"}}},
     {"data":{"name":"arOh"},"mark":{"type":"point","shape":"triangle","filled":true,"size":40,"color":"#F7941D","opacity":1},"encoding":{"angle":{"field":"a","type":"quantitative","scale":null}}},
     {"data":{"values":[{"t":2.9,"v":106.5,"lab":"(c)"}]},"mark":{"type":"text","fontSize":30,"color":"#000"},"encoding":{"text":{"field":"lab"}}}
    ]
   },
   {
    "encoding":{
     "x":{"field":"t","type":"quantitative","scale":{"domain":[-1,32],"nice":false,"zero":false},"axis":null},
     "y":{"field":"v","type":"quantitative","scale":{"domain":[0,20],"nice":false,"zero":false},
      "axis":{"orient":"right","title":"Hysteresis (K)","titleAngle":270,"titleBaseline":"top","titleColor":"#0F7346","labelColor":"#0F7346","domainColor":"#0F7346","tickColor":"#0F7346",
       "values":[0,2.5,5,7.5,10,12.5,15,17.5,20],"labelExpr":"datum.value % 5 == 0 ? datum.label : ''",
       "tickSize":{"condition":{"test":"datum.value % 5 == 0","value":-8},"value":-4},"labelPadding":15,"titlePadding":10}}
    },
    "layer":[
     {"data":{"name":"hy"},"transform":[{"filter":"datum.k == 'o'"}],"mark":{"type":"line","color":"#0F7346","strokeWidth":1.3}},
     {"data":{"name":"hy"},"mark":{"type":"rule","color":"#0F7346","strokeWidth":1.2},"encoding":{"y":{"field":"lo","type":"quantitative"},"y2":{"field":"hi"}}},
     {"data":{"name":"hy"},"mark":{"type":"tick","orient":"horizontal","size":9,"thickness":1.2,"color":"#0F7346"},"encoding":{"y":{"field":"lo","type":"quantitative"}}},
     {"data":{"name":"hy"},"mark":{"type":"tick","orient":"horizontal","size":9,"thickness":1.2,"color":"#0F7346"},"encoding":{"y":{"field":"hi","type":"quantitative"}}},
     {"data":{"name":"hy"},"transform":[{"filter":"datum.k == 'o'"}],"mark":{"type":"point","shape":"circle","size":70,"filled":false,"strokeWidth":1.5,"color":"#0F7346","opacity":1}},
     {"data":{"name":"hy"},"transform":[{"filter":"datum.k == 'f'"}],"mark":{"type":"point","shape":"circle","size":70,"filled":true,"color":"#0F7346","opacity":1}},
     {"data":{"name":"arG"},"mark":{"type":"line","color":"#0F7346","strokeWidth":1.5,"interpolate":"cardinal"},"encoding":{"order":{"field":"i","type":"quantitative"}}},
     {"data":{"name":"arGh"},"mark":{"type":"point","shape":"triangle","filled":true,"size":40,"color":"#0F7346","opacity":1},"encoding":{"angle":{"field":"a","type":"quantitative","scale":null}}}
    ]
   },
   {
    "data":{"values":[{"t":10}]},
    "mark":{"type":"point","opacity":0},
    "encoding":{
     "x":{"field":"t","type":"quantitative","scale":{"domain":[-1,32],"nice":false,"zero":false},
      "axis":{"orient":"top","title":null,"labels":false,"values":[0,2.5,5,7.5,10,12.5,15,17.5,20,22.5,25,27.5,30],"tickSize":{"condition":{"test":"datum.value % 5 == 0","value":-7},"value":-4}}}
    }
   }
  ],
  "resolve":{"scale":{"x":"independent","y":"independent"}}
 }
]
}
